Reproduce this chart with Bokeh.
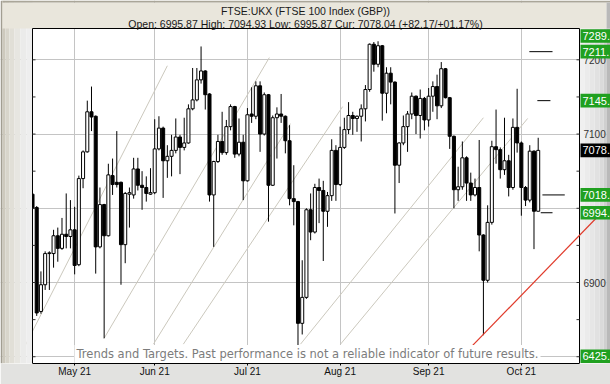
from bokeh.plotting import figure
from bokeh.models import Range1d, FixedTicker, Label, ColumnDataSource
from bokeh.core.properties import value
from bokeh.embed import file_html
from bokeh.resources import INLINE

title_text = "FTSE:UKX (FTSE 100 Index (GBP))"
subtitle_text = "Open: 6995.87 High: 7094.93 Low: 6995.87 Cur: 7078.04 (+82.17/+01.17%)"
footer_text = "Trends and Targets. Past performance is not a reliable indicator of future results."

# trading-day index (-1 = 19 Apr 2021 ... 119 = 7 Oct 2021)
days = list(range(-1, 120))
opens = [7019, 7001, 6861, 6897, 6939, 6939, 6963, 6946, 6965, 6962,
         6971, 6924, 7040, 7076, 7130, 7124, 6948, 7005, 6963, 7044,
         7035, 7035, 6951, 7019, 7018, 7053, 7031, 7028, 7019, 7021,
         7080, 7108, 7064, 7070, 7078, 7096, 7082, 7088, 7134, 7146,
         7173, 7185, 7154, 7018, 7063, 7090, 7075, 7110, 7137, 7073,
         7089, 7037, 7127, 7124, 7165, 7100, 7153, 7031, 7122, 7127,
         7124, 7091, 7013, 7009, 6845, 6880, 6998, 6968, 7028, 7024,
         6996, 7017, 7078, 7032, 7082, 7106, 7125, 7121, 7124, 7134,
         7160, 7221, 7194, 7219, 7155, 7182, 7170, 7058, 7088, 7110,
         7127, 7151, 7125, 7148, 7119, 7151, 7164, 7138, 7188, 7149,
         7097, 7025, 7029, 7068, 7034, 7018, 7028, 6964, 6903, 6981,
         7083, 7079, 7052, 7064, 7028, 7109, 7088, 7028, 7011, 7077,
         6996]
closes = [7000, 6859, 6897, 6939, 6940, 6963, 6946, 6965, 6962, 6971,
          6923, 7040, 7076, 7130, 7123, 6948, 7005, 6963, 7045, 7032,
          7032, 6951, 7020, 7021, 7053, 7031, 7028, 7020, 7021, 7080,
          7108, 7064, 7070, 7078, 7096, 7082, 7088, 7134, 7146, 7173,
          7185, 7153, 7018, 7063, 7090, 7075, 7110, 7137, 7073, 7089,
          7037, 7126, 7124, 7165, 7100, 7153, 7031, 7122, 7127, 7124,
          7091, 7013, 7009, 6845, 6880, 6998, 6968, 7028, 7024, 6996,
          7017, 7078, 7032, 7082, 7106, 7125, 7121, 7124, 7134, 7160,
          7221, 7194, 7219, 7155, 7182, 7170, 7058, 7088, 7110, 7127,
          7151, 7125, 7148, 7119, 7151, 7164, 7138, 7188, 7149, 7097,
          7025, 7029, 7068, 7034, 7018, 7028, 6964, 6903, 6981, 7083,
          7079, 7052, 7064, 7028, 7109, 7088, 7028, 7011, 7077, 6996,
          7078]
highs = [7030, 7003, 6915, 6942, 6942, 6971, 6974, 6987, 7020, 7011,
         7002, 7044, 7078, 7145, 7164, 7125, 7028, 7006, 7060, 7067,
         7104, 7036, 7022, 7028, 7068, 7068, 7050, 7043, 7054, 7120,
         7124, 7110, 7085, 7099, 7121, 7099, 7122, 7140, 7189, 7189,
         7218, 7186, 7155, 7064, 7099, 7130, 7119, 7140, 7138, 7121,
         7099, 7135, 7163, 7171, 7171, 7156, 7154, 7125, 7136, 7154,
         7125, 7112, 7058, 7010, 6930, 7000, 7020, 7033, 7040, 7037,
         7022, 7093, 7085, 7110, 7122, 7143, 7130, 7125, 7140, 7166,
         7222, 7224, 7225, 7220, 7190, 7190, 7171, 7089, 7125, 7131,
         7156, 7152, 7160, 7150, 7162, 7171, 7180, 7197, 7189, 7150,
         7098, 7056, 7090, 7070, 7048, 7040, 7092, 6965, 7004, 7091,
         7133, 7082, 7122, 7072, 7121, 7161, 7090, 7030, 7085, 7078,
         7095]
lows = [6990, 6855, 6858, 6890, 6890, 6920, 6928, 6944, 6946, 6946,
        6911, 6922, 7027, 7075, 7104, 6912, 6946, 6825, 6962, 7018,
        7028, 6897, 6926, 6974, 7013, 7024, 6998, 7009, 7018, 7019,
        7078, 7014, 7041, 7043, 7074, 7046, 7078, 7087, 7132, 7144,
        7168, 7133, 7009, 6948, 7061, 7072, 7072, 7105, 7068, 7070,
        7011, 7036, 7115, 7120, 7076, 7098, 6982, 7030, 7067, 7115,
        7074, 7004, 6977, 6815, 6830, 6878, 6957, 6966, 6980, 6929,
        6975, 7010, 7010, 7030, 7080, 7100, 7099, 7103, 7090, 7117,
        7157, 7184, 7190, 7118, 7128, 7140, 6993, 7034, 7085, 7076,
        7120, 7100, 7094, 7105, 7110, 7130, 7120, 7135, 7148, 7080,
        7000, 7010, 7025, 7010, 7010, 7016, 6942, 6829, 6900, 6978,
        7060, 7040, 7045, 7016, 7025, 7075, 6990, 7003, 7008, 6945,
        6996]

month_ticks = [9, 28, 50, 72, 93, 115]
month_labels = ["May 21", "Jun 21", "Jul 21", "Aug 21", "Sep 21", "Oct 21"]
price_ticks = [6800, 6900, 7000, 7100, 7200]
price_labels = [6900, 7100, 7200]
side_ticks = [6800, 6850, 6900, 6950, 7000, 7050, 7100, 7150, 7200]

# grey trend channel lines (start day, start price, end day, end price)
trend_x0 = [-3.0, 15.9, 27.7, 34.8, 62.6, 72.1]
trend_y0 = [6812, 6824, 6817, 6817, 6817, 6817]
trend_x1 = [31.0, 55.2, 60.2, 72.6, 106.0, 116.5]
trend_y1 = [7192, 7203, 7114, 7137, 7122, 7121]

# red rising line from the September low to the 6994 target
red_x = [100.0, 134.0]
red_y = [6795, 6994]

# target marks
target_levels = [7211, 7145, 7018, 6994]
target_from = [116.9, 118.8, 120.0, 119.6]
target_to = [122.4, 121.9, 125.3, 122.4]

# price boxes on the right
box_values = [7289, 7211, 7145, 7078.04, 7018, 6994, 6425]
box_texts = ["7289.", "7211.", "7145.", "7078.", "7018.", "6994.", "6425."]
box_current = [False, False, False, True, False, False, False]

# ---------------- geometry ----------------
W, H = 610, 384
PL, PR, PT, PB = 32, 579, 28, 363          # plot box in pixels
X_LO, X_HI = -1.0, 128.8                    # data range of plot box
Y_LO, Y_HI = 6790.9, 7242.2
PXX = (PR - PL) / (X_HI - X_LO)
PXY = (PB - PT) / (Y_HI - Y_LO)
X_START = X_LO - PL / PXX                   # frame reaches left edge
X_FULL = X_LO + (W - PL) / PXX              # frame reaches right edge
Y_FULL = Y_HI + PT / PXY                    # frame reaches top edge


def dx(px):
    return X_LO + (px - PL) / PXX


def dy(py):
    return Y_HI - (py - PT) / PXY


p = figure(width=W, height=H, x_range=Range1d(X_START, X_FULL), y_range=Range1d(Y_LO, Y_FULL),
           output_backend="svg", toolbar_location=None,
           min_border_left=0, min_border_right=0, min_border_top=0, min_border_bottom=H - PB)
p.title.visible = False
p.border_fill_color = "#e2e2e0"
p.background_fill_color = "white"
p.outline_line_color = None
p.yaxis.visible = False

# bottom axis
xa = p.xaxis[0]
xa.ticker = FixedTicker(ticks=month_ticks)
xa.major_label_overrides = {t: l for t, l in zip(month_ticks, month_labels)}
xa.bounds = (X_LO, X_HI)
xa.major_tick_in = 0
xa.major_tick_out = 2
xa.minor_tick_in = 0
xa.minor_tick_out = 0
xa.major_label_standoff = 0
xa.axis_line_color = "black"
xa.major_label_text_font = "Liberation Sans"
xa.major_label_text_font_size = "10px"
xa.major_label_text_color = "#111111"

p.xgrid.ticker = FixedTicker(ticks=month_ticks)
p.ygrid.ticker = FixedTicker(ticks=price_ticks)
p.xgrid.grid_line_color = "#c4c4c4"
p.ygrid.grid_line_color = "#c4c4c4"

# trend lines
p.segment(trend_x0, trend_y0, trend_x1, trend_y1, line_color="#cbc8bd", line_width=1)

# candles
src = ColumnDataSource(dict(
    x=days, o=opens, c=closes, h=highs, l=lows,
    top=[max(a, b) for a, b in zip(opens, closes)],
    bot=[min(a, b) for a, b in zip(opens, closes)],
    fill=["white" if c >= o else "black" for o, c in zip(opens, closes)],
))
p.segment(x0="x", y0="l", x1="x", y1="h", source=src, line_color="black", line_width=1)
p.vbar(x="x", width=0.72, top="top", bottom="bot", source=src, fill_color="fill",
       line_color="black", line_width=1)

# target marks
p.segment(target_from, target_levels, target_to, target_levels, line_color="black", line_width=1)

# ---------- surrounding panels drawn inside the frame ----------
# left bevel
l_edges = [0, 2, 5, 9, 14, 20, 26, PL]
l_shades = ["#a29e92", "#cdc9bd", "#d8d5cb", "#e1dfd7", "#e7e6e1", "#ebebea", "#eeeeee"]
p.quad(left=[dx(a) for a in l_edges[:-1]], right=[dx(b) for b in l_edges[1:]],
       bottom=Y_LO, top=Y_FULL, fill_color=l_shades, line_color=None)
# right price panel
r_edges = [PR, 584, 589, 594, 599, 603, 606, W]
r_shades = ["#f0f0f0", "#ebebeb", "#e6e6e6", "#e1e1e1", "#dadada", "#cfcfcf", "#b9b9b9"]
p.quad(left=[dx(a) for a in r_edges[:-1]], right=[dx(b) for b in r_edges[1:]],
       bottom=Y_LO, top=Y_HI, fill_color=r_shades, line_color=None)
# top band (title area)
p.quad(left=[dx(2)], right=[dx(606)], bottom=[Y_HI], top=[dy(2)], fill_color="#e9e6dc", line_color=None)
p.quad(left=[dx(2)], right=[dx(W)], bottom=[dy(2)], top=[Y_FULL], fill_color="#aaa699", line_color=None)
p.quad(left=[dx(606)], right=[dx(W)], bottom=[Y_HI], top=[dy(2)], fill_color="#b9b9b9", line_color=None)

# border of the plot box (bottom edge is the axis line)
p.segment([X_LO, X_LO, X_HI], [Y_LO, Y_HI, Y_LO], [X_LO, X_HI, X_HI], [Y_HI, Y_HI, Y_HI],
          line_color="black", line_width=1)

# tick marks on both sides
n = len(side_ticks)
p.segment([X_LO] * n, side_ticks, [X_LO + 3 / PXX] * n, side_ticks, line_color="#333333", line_width=1)
p.segment([X_HI - 3 / PXX] * n, side_ticks, [X_HI] * n, side_ticks, line_color="#333333", line_width=1)

# right-hand price scale labels
p.text(x=[X_HI + 4 / PXX] * len(price_labels), y=price_labels, text=[str(t) for t in price_labels],
       text_font=value("Liberation Sans"), text_font_size="10px", text_color="#333333",
       text_baseline="middle", text_align="left")

# red line (over the price panel)
p.line(red_x, red_y, line_color="#e03a2a", line_width=1.2)

# price boxes
half = 6.8 / PXY
ytop_pin = dy(35.5)
ybot_pin = dy(355.7)
box_y = [min(max(v, ybot_pin), ytop_pin) for v in box_values]
p.quad(left=dx(580), right=X_FULL + 1, bottom=[y - half for y in box_y], top=[y + half for y in box_y],
       fill_color=["black" if c else "#20a020" for c in box_current], line_color=None)
p.text(x=[dx(582)] * len(box_y), y=box_y, text=box_texts, text_font=value("Liberation Sans"),
       text_font_size="11px", text_color="white", text_baseline="middle", text_align="left")

# titles
p.text(x=[dx(305), dx(305)], y=[dy(10), dy(23.5)], text=[title_text, subtitle_text],
       text_font=value("Liberation Sans"), text_font_size="10.5px", text_color="#1a1a1a",
       text_baseline="middle", text_align="center")

# footer
p.add_layout(Label(x=dx(74), y=dy(353.5), text=footer_text, text_font="DejaVu Sans",
                   text_font_size="11.5px", text_color="#7c7c7c", text_baseline="middle",
                   background_fill_color="white", padding=2))

open("out.html", "w").write(file_html(p, INLINE))
